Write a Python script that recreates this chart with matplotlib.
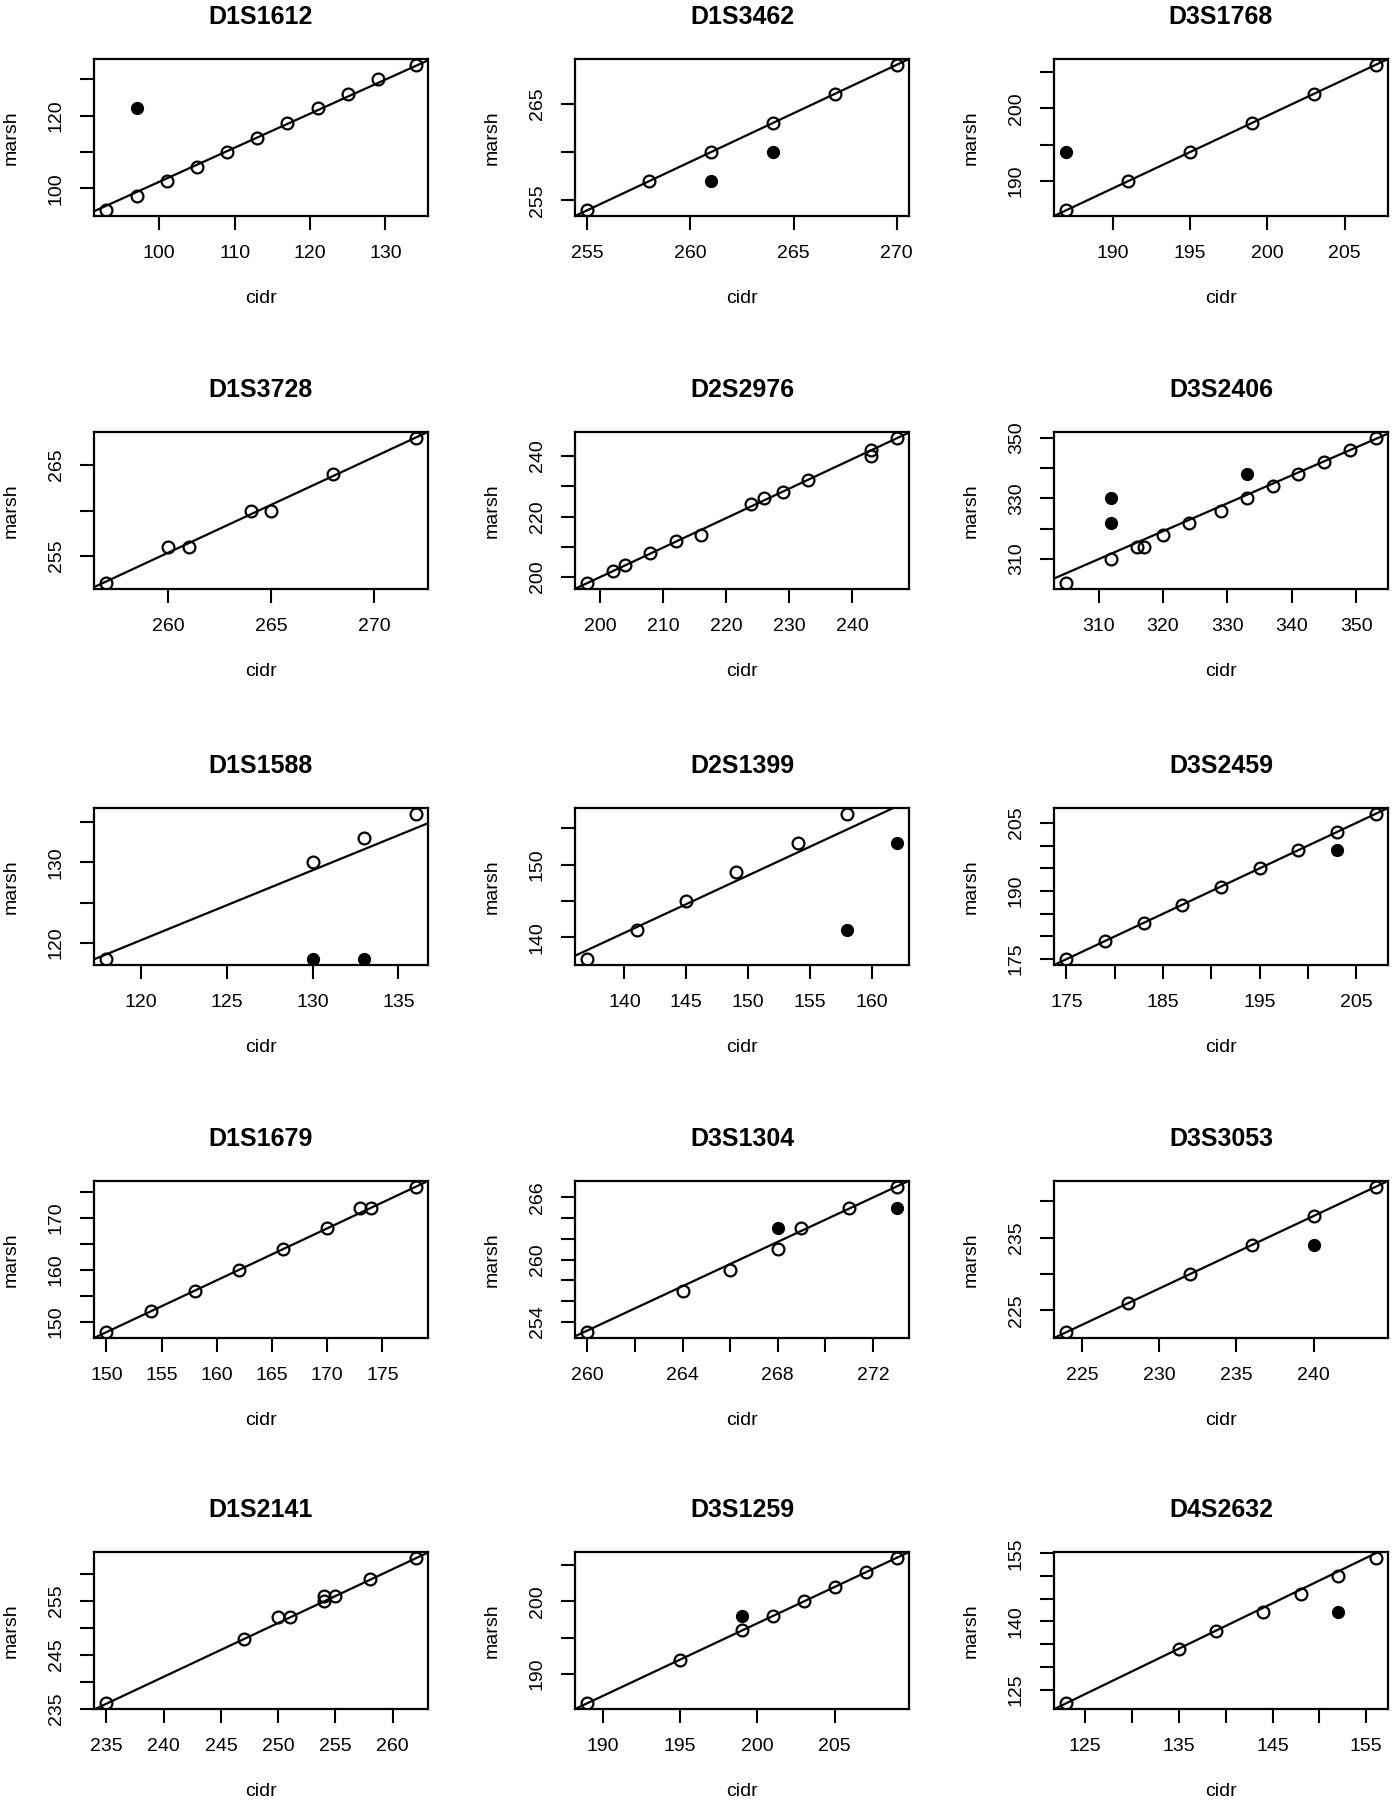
import numpy as np
import matplotlib
matplotlib.use("Agg")
import matplotlib.pyplot as plt

plt.rcParams['font.family'] = ['Liberation Sans', 'DejaVu Sans']

markers = ["D1S1612", "D1S3462", "D3S1768",
           "D1S3728", "D2S2976", "D3S2406",
           "D1S1588", "D2S1399", "D3S2459",
           "D1S1679", "D3S1304", "D3S3053",
           "D1S2141", "D3S1259", "D4S2632"]

# open circles
open_cidr = [
    [93, 97, 101, 105, 109, 113, 117, 121, 125, 129, 134],
    [255, 258, 261, 264, 267, 270],
    [187, 191, 195, 199, 203, 207],
    [257, 260, 261, 264, 265, 268, 272],
    [198, 202, 204, 208, 212, 216, 224, 226, 229, 233, 243, 243, 247],
    [305, 312, 316, 317, 320, 324, 329, 333, 337, 341, 345, 349, 353],
    [118, 130, 133, 136],
    [137, 141, 145, 149, 154, 158],
    [175, 179, 183, 187, 191, 195, 199, 203, 207],
    [150, 154, 158, 162, 166, 170, 173, 174, 178],
    [260, 264, 266, 268, 269, 271, 273],
    [224, 228, 232, 236, 240, 244],
    [235, 247, 250, 251, 254, 254, 255, 258, 262],
    [189, 195, 199, 201, 203, 205, 207, 209],
    [123, 135, 139, 144, 148, 152, 156],
]
open_marsh = [
    [94, 98, 102, 106, 110, 114, 118, 122, 126, 130, 134],
    [254, 257, 260, 263, 266, 269],
    [186, 190, 194, 198, 202, 206],
    [252, 256, 256, 260, 260, 264, 268],
    [198, 202, 204, 208, 212, 214, 224, 226, 228, 232, 242, 240, 246],
    [302, 310, 314, 314, 318, 322, 326, 330, 334, 338, 342, 346, 350],
    [118, 130, 133, 136],
    [137, 141, 145, 149, 153, 157],
    [175, 179, 183, 187, 191, 195, 199, 203, 207],
    [148, 152, 156, 160, 164, 168, 172, 172, 176],
    [253, 257, 259, 261, 263, 265, 267],
    [222, 226, 230, 234, 238, 242],
    [236, 248, 252, 252, 255, 256, 256, 259, 263],
    [186, 192, 196, 198, 200, 202, 204, 206],
    [122, 134, 138, 142, 146, 150, 154],
]

# filled circles
filled_cidr = [[97], [261, 264], [187], [], [], [312, 312, 333], [130, 133],
               [158, 162], [203], [], [268, 273], [240], [], [199], [152]]
filled_marsh = [[122], [257, 260], [194], [], [], [330, 322, 338], [118, 118],
                [141, 153], [199], [], [263, 265], [234], [], [198], [142]]

# fitted line
fit_slope = [0.938, 1.0, 1.0, 1.055, 0.975, 0.923, 0.867, 0.79, 1.0,
             1.0, 1.067, 1.0, 1.0, 1.0, 1.0]
fit_intercept = [8.0, -1.0, -1.0, -18.94, 5.0, 23.8, 16.3, 30.03, 0.0,
                 -2.0, -24.26, -2.0, 0.9, -3.0, -1.0]

x_ticks = [[100, 110, 120, 130], [255, 260, 265, 270], [190, 195, 200, 205],
           [260, 265, 270], [200, 210, 220, 230, 240], [310, 320, 330, 340, 350],
           [120, 125, 130, 135], [140, 145, 150, 155, 160],
           [175, 180, 185, 190, 195, 200, 205],
           [150, 155, 160, 165, 170, 175], [260, 262, 264, 266, 268, 270, 272],
           [225, 230, 235, 240], [235, 240, 245, 250, 255, 260],
           [190, 195, 200, 205], [125, 130, 135, 140, 145, 150, 155]]
x_labels = [[100, 110, 120, 130], [255, 260, 265, 270], [190, 195, 200, 205],
            [260, 265, 270], [200, 210, 220, 230, 240], [310, 320, 330, 340, 350],
            [120, 125, 130, 135], [140, 145, 150, 155, 160], [175, 185, 195, 205],
            [150, 155, 160, 165, 170, 175], [260, 264, 268, 272],
            [225, 230, 235, 240], [235, 240, 245, 250, 255, 260],
            [190, 195, 200, 205], [125, 135, 145, 155]]
y_ticks = [[100, 110, 120, 130], [255, 260, 265], [190, 195, 200, 205],
           [255, 260, 265], [200, 210, 220, 230, 240], [310, 320, 330, 340, 350],
           [120, 125, 130, 135], [140, 145, 150, 155],
           [175, 180, 185, 190, 195, 200, 205],
           [150, 155, 160, 165, 170, 175], [254, 256, 258, 260, 262, 264, 266],
           [225, 230, 235, 240], [235, 240, 245, 250, 255, 260],
           [190, 195, 200, 205], [125, 130, 135, 140, 145, 150, 155]]
y_labels = [[100, 120], [255, 265], [190, 200], [255, 265], [200, 220, 240],
            [310, 330, 350], [120, 130], [140, 150], [175, 190, 205],
            [150, 160, 170], [254, 260, 266], [225, 235], [235, 245, 255],
            [190, 200], [125, 140, 155]]

W, H = 1393, 1800
fig = plt.figure(figsize=(W / 100, H / 100), dpi=100)

col_left = [94, 575, 1054]
row_top = [59, 432, 808, 1181, 1552]
pw, ph = 334, 157

for i, name in enumerate(markers):
    r, c = divmod(i, 3)
    ax = fig.add_axes([col_left[c] / W, 1 - (row_top[r] + ph) / H, pw / W, ph / H])

    allx = open_cidr[i] + filled_cidr[i]
    ally = open_marsh[i] + filled_marsh[i]
    dx = 0.04 * (max(allx) - min(allx))
    dy = 0.04 * (max(ally) - min(ally))
    ax.set_xlim(min(allx) - dx, max(allx) + dx)
    ax.set_ylim(min(ally) - dy, max(ally) + dy)

    ax.plot(open_cidr[i], open_marsh[i], 'o', ms=8.5, mfc='none', mec='black', mew=1.6)
    if filled_cidr[i]:
        ax.plot(filled_cidr[i], filled_marsh[i], 'o', ms=8.5, mfc='black', mec='black')
    ax.axline((0, fit_intercept[i]), slope=fit_slope[i], color='black', lw=1.6)

    ax.set_xticks(x_ticks[i])
    ax.set_xticklabels([str(t) if t in x_labels[i] else '' for t in x_ticks[i]])
    ax.set_yticks(y_ticks[i])
    ax.set_yticklabels([str(t) if t in y_labels[i] else '' for t in y_ticks[i]],
                       rotation=90, va='center')
    ax.tick_params(direction='out', length=10, width=1.5, labelsize=14, pad=11)
    for s in ax.spines.values():
        s.set_linewidth(1.6)

    ax.set_title(name, fontsize=18, fontweight='bold', pad=25)
    ax.set_xlabel("cidr", fontsize=14, labelpad=20)
    ax.set_ylabel("marsh", fontsize=14, labelpad=20)

fig.savefig("out.png", dpi=100)
